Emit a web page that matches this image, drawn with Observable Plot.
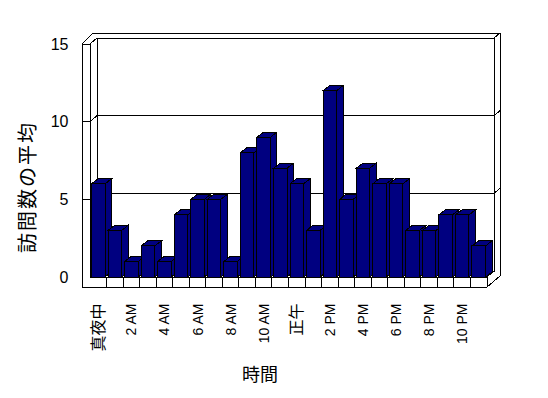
<!DOCTYPE html>
<html>
<head>
<meta charset="utf-8">
<script src="https://cdn.jsdelivr.net/npm/d3@7"></script>
<script src="https://cdn.jsdelivr.net/npm/@observablehq/plot@0.6"></script>
<style>
  body { margin: 0; background: white; }
</style>
</head>
<body>
<div id="chart"></div>
<script>
// ---- data ----
const hours = ["真夜中","1 AM","2 AM","3 AM","4 AM","5 AM","6 AM","7 AM","8 AM","9 AM","10 AM","11 AM",
               "正午","1 PM","2 PM","3 PM","4 PM","5 PM","6 PM","7 PM","8 PM","9 PM","10 PM","11 PM"];
const visits = [6,3,1,2,1,4,5,5,1,8,9,7,6,3,12,5,7,6,6,3,3,4,4,2];
const yTicks = [0,5,10,15];
const gridValues = [5,10];
const tickLabels = ["真夜中","2 AM","4 AM","6 AM","8 AM","10 AM","正午","2 PM","4 PM","6 PM","8 PM","10 PM"];
const xTitle = "時間";
const yTitle = "訪問数の平均";

const table = hours.map((h, i) => ({hour: h, value: visits[i]}));

// ---- 3D geometry (pixels) ----
const WD = [7, -6];    // wall depth offset
const WO = [13, -11];  // outer back offset
const BD = [6.5, -5];  // bar depth offset
const WALL = 8, FLOOR = 10;
const NAVY = "#000080";

function walls(index, scales, values, dim) {
  const XL = dim.marginLeft, XR = dim.width - dim.marginRight;
  const y = scales.y, x = scales.x;
  const Y0 = y(0), Y15 = y(15);
  const g = d3.create("svg:g").attr("shape-rendering", "crispEdges");
  const pts = [[XL - WALL, Y15], [XL - WALL + 11, Y15 + WO[1]], [XR + WO[0], Y15 + WO[1]],
               [XR + WO[0], Y0 - 1], [XR, Y0 + FLOOR], [XL - WALL, Y0 + FLOOR]];
  g.append("path").attr("d", "M" + pts.join("L") + "Z").attr("fill", "white").attr("stroke", "black");
  let d = "";
  d += `M${XL - WALL},${Y15}H${XL}V${Y0}`;
  d += `M${XL},${Y15}L${XL + WD[0]},${Y15 + WD[1]}H${XR + WD[0]}L${XR + WO[0]},${Y15 + WO[1]}`;
  d += `M${XL + WD[0]},${Y15 + WD[1]}V${Y0 + WD[1]}H${XR + WD[0]}V${Y15 + WD[1]}`;
  d += `M${XL},${Y0}H${XR}V${Y0 + FLOOR}`;
  d += `M${XR},${Y0}L${XR + WD[0]},${Y0 + WD[1]}`;
  for (const v of gridValues) {
    const yv = y(v);
    d += `M${XL - WALL},${yv}H${XL}L${XL + WD[0]},${yv + WD[1]}H${XR + WD[0]}L${XR + WO[0]},${yv + WO[1]}`;
  }
  for (let k = 1; k < hours.length; k++) {
    const xk = x(hours[k]);
    d += `M${xk},${Y0}V${Y0 + FLOOR}`;
  }
  g.append("path").attr("d", d).attr("fill", "none").attr("stroke", "black");
  return g.node();
}

function barDepth(index, scales, values, dim) {
  const x = scales.x, y = scales.y;
  const bw = x.bandwidth ? x.bandwidth() : (dim.width - dim.marginLeft - dim.marginRight) / hours.length;
  const Y0 = y(0);
  const g = d3.create("svg:g").attr("shape-rendering", "crispEdges");
  for (const row of table) {
    const xa = x(row.hour) + 1.5, xb = x(row.hour) + bw - 1.5, yv = y(row.value);
    const top = [[xa, yv], [xb, yv], [xb + BD[0], yv + BD[1]], [xa + BD[0], yv + BD[1]]];
    const side = [[xb, yv], [xb + BD[0], yv + BD[1]], [xb + BD[0], Y0 + BD[1]], [xb, Y0]];
    for (const p of [top, side]) {
      g.append("path").attr("d", "M" + p.join("L") + "Z")
        .attr("fill", NAVY).attr("stroke", "black");
    }
  }
  return g.node();
}

const chart = Plot.plot({
  width: 548,
  height: 398,
  marginLeft: 90,
  marginRight: 61,
  marginTop: 44,
  marginBottom: 121,
  style: {fontFamily: "'Liberation Sans', 'Noto Sans CJK JP', sans-serif", fontSize: "16px", background: "white", color: "black"},
  x: {type: "band", domain: hours, paddingInner: 0, paddingOuter: 0, round: false, axis: null},
  y: {domain: [0, 15], axis: null, nice: false},
  marks: [
    walls,
    barDepth,
    Plot.barY(table, {x: "hour", y: "value", fill: NAVY, stroke: "black", strokeWidth: 1,
                      insetLeft: 1.5, insetRight: 1.5, shapeRendering: "crispEdges"}),
    Plot.text(yTicks, {y: d => d, text: d => String(d), frameAnchor: "left", dx: -22,
                       textAnchor: "end", lineAnchor: "middle", fontSize: 16}),
    Plot.text(tickLabels, {x: d => d, text: d => d, frameAnchor: "bottom", dy: 26, rotate: -90,
                           textAnchor: "end", lineAnchor: "middle",
                           fontSize: d => /[A-Z]/.test(d) ? 14 : 16}),
    Plot.text([xTitle], {text: d => d, frameAnchor: "bottom", dx: -29, dy: 98,
                         textAnchor: "middle", lineAnchor: "middle", fontSize: 18}),
    Plot.text([yTitle], {text: d => d, frameAnchor: "left", dx: -62, dy: 26, rotate: -90,
                         textAnchor: "middle", lineAnchor: "middle", fontSize: 20})
  ]
});

// letter spacing for the vertical axis title
for (const t of chart.querySelectorAll("text")) {
  if (t.textContent === yTitle) t.setAttribute("letter-spacing", "2");
}
document.getElementById("chart").appendChild(chart);
</script>
</body>
</html>
